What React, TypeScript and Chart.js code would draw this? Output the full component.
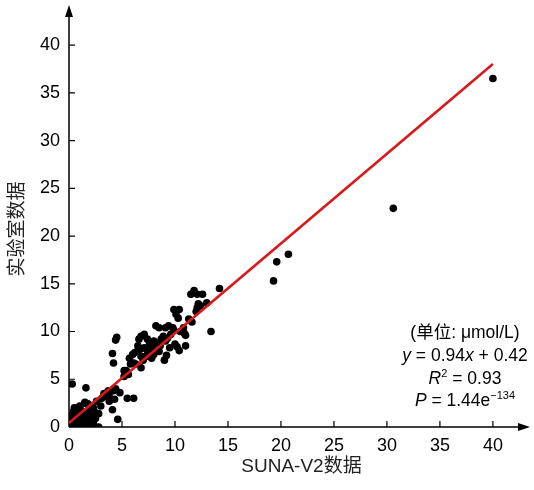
import React, { useEffect, useRef } from "react";
import { Chart, registerables } from "chart.js";

Chart.register(...registerables);

// SUNA-V2 measured values (x) and laboratory values (y), µmol/L
const sunaX: number[] = [
  40.0, 30.6, 19.6, 20.7, 19.3, 14.2, 13.4,
  11.8, 11.5, 12.1, 12.6, 12.2, 12.1, 12.0, 11.3, 9.9, 10.4, 10.1, 10.3, 8.2, 8.5, 9.1, 9.4, 9.8, 9.9, 10.5, 10.9, 11.0,
  7.1, 6.8, 6.6, 7.4, 7.7, 8.0, 8.9, 8.7, 9.1, 9.6, 4.5, 4.4, 4.1, 4.2, 6.0, 6.1, 5.8, 6.5, 6.8, 7.1, 7.4, 7.7,
  7.6, 7.9, 8.3, 8.6, 9.3, 6.5, 7.3, 6.8, 6.3, 6.8, 5.2, 5.6, 5.4, 5.2, 7.5, 8.0, 8.5, 9.2, 10.4, 10.2, 11.0, 7.0,
  7.8, 6.2, 5.7, 11.6, 12.4, 13.0, 10.8, 9.5, 9.0, 10.0,
  3.7, 3.3, 3.8, 4.2, 4.4, 5.5, 6.1, 4.1, 4.6, 2.8, 1.6, 0.3, 1.8, 2.8, 3.1, 3.6, 4.0, 2.6, 4.3, 3.8, 1.5, 2.0,
  4.8, 3.0, 2.3,
  0.2, 0.1, 0.3, 0.5, 0.8, 1.0, 1.2, 1.5, 1.8, 2.0, 2.3, 0.4, 0.6, 1.1, 1.4, 0.9, 1.6, 2.1, 0.2, 0.7, 1.3, 0.0,
  0.3, 1.7, 2.5, 2.2, 0.5, 1.0, 0.8, 1.9, 1.5, 1.8, 2.4, 0.1, 0.6, 1.1, 1.6, 2.0, 0.4, 1.2, 0.1, 0.0,
];
const labY: number[] = [
  36.5, 22.9, 17.3, 18.1, 15.3, 14.5, 10.0,
  14.3, 13.9, 13.9, 13.9, 12.9, 12.5, 12.1, 11.3, 12.3, 12.3, 11.8, 11.4, 10.6, 10.4, 10.4, 10.6, 10.4, 10.1, 10.0, 9.8, 9.6,
  9.7, 9.5, 9.2, 9.2, 8.8, 9.0, 9.5, 9.2, 9.0, 9.7, 9.4, 9.1, 7.7, 6.7, 7.6, 6.7, 6.6, 8.5, 8.2, 8.3, 8.0, 8.2,
  8.7, 8.3, 8.8, 8.5, 9.3, 8.0, 7.4, 7.4, 6.6, 6.2, 5.9, 5.5, 5.9, 5.3, 7.8, 7.6, 7.9, 7.5, 8.0, 8.4, 8.5, 7.0,
  7.2, 7.8, 7.2, 11.0, 12.7, 13.0, 10.4, 8.3, 7.0, 8.7,
  3.8, 3.5, 3.2, 3.8, 4.0, 3.0, 3.0, 1.8, 0.8, 1.4, 4.1, 4.5, 2.4, 0.0, 3.0, 3.2, 3.8, 2.7, 2.9, 2.7, 2.5, 2.1,
  3.6, 2.2, 2.0,
  1.2, 0.8, 0.3, 0.1, 0.2, 0.5, 0.0, 0.3, 0.2, 0.6, 0.4, 1.6, 1.4, 1.8, 1.2, 1.0, 0.9, 1.2, 0.5, 0.7, 0.4, 0.2,
  1.0, 1.5, 0.9, 0.1, 2.0, 2.2, 1.8, 1.9, 2.6, 2.4, 1.6, 0.0, 0.0, 0.1, 0.0, 0.0, 0.6, 0.9, 0.6, 1.0,
];

// fitted regression line end points: y = 0.94x + 0.42
const fitX: number[] = [0, 40];
const fitY: number[] = [0.42, 38.02];

const xTickValues: number[] = [0, 5, 10, 15, 20, 25, 30, 35, 40];
const yTickValues: number[] = [0, 5, 10, 15, 20, 25, 30, 35, 40];

const xTitle = "SUNA-V2数据";
const yTitle = "实验室数据";

const LATIN = '"Liberation Sans", Arial, "Noto Sans CJK SC", sans-serif';
const CJK = '"Liberation Sans", "Noto Sans CJK SC", sans-serif';

type Seg = { t: string; italic?: boolean; sup?: boolean };

function drawMixed(ctx: CanvasRenderingContext2D, segs: Seg[], cx: number, y: number, size: number) {
  const fontFor = (s: Seg) =>
    `${s.italic ? "italic " : ""}${s.sup ? Math.round(size * 0.62) : size}px ${CJK}`;
  let total = 0;
  const widths = segs.map((s) => {
    ctx.font = fontFor(s);
    const w = ctx.measureText(s.t).width;
    total += w;
    return w;
  });
  let x = cx - total / 2;
  segs.forEach((s, i) => {
    ctx.font = fontFor(s);
    ctx.fillText(s.t, x, s.sup ? y - size * 0.42 : y);
    x += widths[i];
  });
}

const decorPlugin = {
  id: "decor",
  beforeDatasetsDraw(chart: any) {
    const { ctx, chartArea, scales } = chart;
    const xs = scales.x;
    const ys = scales.y;
    const x0 = xs.getPixelForValue(0);
    const y0 = ys.getPixelForValue(0);
    ctx.save();
    ctx.strokeStyle = "#000";
    ctx.fillStyle = "#000";
    ctx.lineWidth = 1.5;
    ctx.beginPath();
    ctx.moveTo(x0, y0);
    ctx.lineTo(x0, chartArea.top + 8);
    ctx.moveTo(x0, y0);
    ctx.lineTo(chartArea.right - 8, y0);
    ctx.stroke();
    ctx.beginPath();
    ctx.moveTo(x0, chartArea.top);
    ctx.lineTo(x0 - 4, chartArea.top + 12);
    ctx.lineTo(x0 + 4, chartArea.top + 12);
    ctx.closePath();
    ctx.fill();
    ctx.beginPath();
    ctx.moveTo(chartArea.right, y0);
    ctx.lineTo(chartArea.right - 12, y0 - 4);
    ctx.lineTo(chartArea.right - 12, y0 + 4);
    ctx.closePath();
    ctx.fill();
    ctx.lineWidth = 1.2;
    ctx.beginPath();
    xTickValues.forEach((v) => {
      if (v === 0) return;
      const px = xs.getPixelForValue(v);
      ctx.moveTo(px, y0);
      ctx.lineTo(px, y0 - 6);
    });
    yTickValues.forEach((v) => {
      if (v === 0) return;
      const py = ys.getPixelForValue(v);
      ctx.moveTo(x0, py);
      ctx.lineTo(x0 + 6, py);
    });
    ctx.stroke();
    ctx.restore();
  },
  afterDraw(chart: any) {
    const { ctx, chartArea } = chart;
    ctx.save();
    ctx.fillStyle = "#222";
    ctx.textBaseline = "middle";
    ctx.textAlign = "center";
    ctx.font = `19px ${CJK}`;
    ctx.fillText(xTitle, (chartArea.left + chartArea.right) / 2 + 2, 467);
    ctx.save();
    ctx.translate(18, 229);
    ctx.rotate(-Math.PI / 2);
    ctx.fillText(yTitle, 0, 0);
    ctx.restore();

    ctx.fillStyle = "#000";
    ctx.textAlign = "left";
    ctx.textBaseline = "alphabetic";
    const cx = 465;
    const size = 17.5;
    drawMixed(ctx, [{ t: "(单位: μmol/L)" }], cx, 338, size);
    drawMixed(ctx, [{ t: "y", italic: true }, { t: " = 0.94" }, { t: "x", italic: true }, { t: " + 0.42" }], cx, 361, size);
    drawMixed(ctx, [{ t: "R", italic: true }, { t: "2", sup: true }, { t: " = 0.93" }], cx, 384, size);
    drawMixed(ctx, [{ t: "P", italic: true }, { t: " = 1.44e" }, { t: "−134", sup: true }], cx, 406, size);
    ctx.restore();
  },
};

export default function App() {
  const ref = useRef<HTMLCanvasElement | null>(null);
  useEffect(() => {
    document.body.style.margin = "0";
    if (!ref.current) return;
    const chart = new Chart(ref.current, {
      type: "scatter",
      data: {
        datasets: [
          {
            type: "line",
            label: "fit",
            data: fitX.map((x, i) => ({ x, y: fitY[i] })),
            borderColor: "#d7191c",
            borderWidth: 2.6,
            pointRadius: 0,
            fill: false,
            order: 0,
          } as any,
          {
            label: "samples",
            data: sunaX.map((x, i) => ({ x, y: labY[i] })),
            backgroundColor: "#000",
            borderColor: "#000",
            borderWidth: 0,
            pointRadius: 3.8,
            order: 1,
          },
        ],
      },
      options: {
        responsive: false,
        animation: false,
        layout: { padding: { top: 5, right: 4, left: 0, bottom: 0 } },
        plugins: { legend: { display: false }, tooltip: { enabled: false } },
        scales: {
          x: {
            type: "linear",
            min: 0,
            max: 43.5,
            grid: { display: false, drawTicks: false },
            border: { display: false },
            afterFit: (s: any) => {
              s.height = 63;
              s.paddingLeft = 0;
              s.paddingRight = 0;
            },
            afterBuildTicks: (s: any) => {
              s.ticks = xTickValues.map((v) => ({ value: v }));
            },
            ticks: {
              padding: 8,
              color: "#000",
              font: { size: 18, family: LATIN },
              maxRotation: 0,
            },
          },
          y: {
            type: "linear",
            min: 0,
            max: 44.2,
            grid: { display: false, drawTicks: false },
            border: { display: false },
            afterFit: (s: any) => {
              s.width = 69;
              s.paddingTop = 0;
              s.paddingBottom = 0;
            },
            afterBuildTicks: (s: any) => {
              s.ticks = yTickValues.map((v) => ({ value: v }));
            },
            ticks: {
              padding: 9,
              color: "#000",
              font: { size: 18, family: LATIN },
            },
          },
        },
      },
      plugins: [decorPlugin],
    });
    return () => chart.destroy();
  }, []);
  return <canvas ref={ref} width={534} height={490} style={{ display: "block" }} />;
}
